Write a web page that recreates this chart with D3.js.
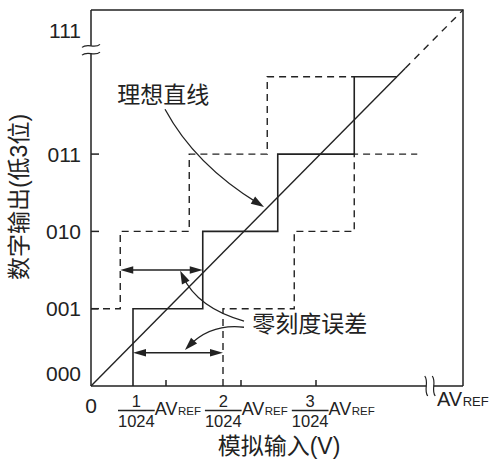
<!DOCTYPE html>
<html><head><meta charset="utf-8">
<script src="https://cdn.jsdelivr.net/npm/d3@7"></script>
<style>body{margin:0;background:#fff}</style>
</head><body><svg id="c" width="496" height="463"></svg>
<script>
// ---- data (in LSB units: x = input / (AVREF/1024), y = output code) ----
const xMax = 4.96, yMax = 4.864;
const yTickLevels = [0, 1, 2, 3, 4.6];
const yTickLabels = ["000", "001", "010", "011", "111"];
const yTickMarks = [1, 2, 3];
const xTickValues = [1, 2, 3];
const xTickNumerators = ["1", "2", "3"];
const xTickDenominator = "1024";
const actualX = [0.56, 0.56, 1.49, 1.49, 2.49, 2.49, 3.51, 3.51, 4.08];
const actualY = [0, 1, 1, 2, 2, 3, 3, 4, 4];
const upperX = [0, 0.39, 0.39, 1.31, 1.31, 2.35, 2.35, 3.51];
const upperY = [1, 1, 2, 2, 3, 3, 4, 4];
const lowerX = [1.76, 1.76, 2.71, 2.71, 3.51, 3.51, 4.35];
const lowerY = [0, 1, 1, 2, 2, 3, 3];
const idealSolidX = [0, 4.19], idealSolidY = [0, 4.11];
const idealDashX = [4.19, 4.96], idealDashY = [4.11, 4.864];
const errUpperX = [0.39, 1.49], errUpperY = 1.5;
const errLowerX = [0.56, 1.76], errLowerY = 0.43;
// callouts: [start, control, tip]
const idealCallout = [[0.987, 3.58], [1.387, 2.86], [2.307, 2.316]];
const errCallout1 = [[2.04, 0.84], [1.42, 1.01], [1.19, 1.49]];
const errCallout2 = [[2.04, 0.76], [1.60, 0.81], [1.253, 0.466]];
const idealLabel = {text: "理想直线", x: 0.35, y: 3.76};
const errLabel = {text: "零刻度误差", x: 2.15, y: 0.80};
const xTitle = "模拟输入(V)", yTitle = "数字输出(低3位)";
const breakX = [4.47, 4.57];   // x-axis break
const breakY = [4.4, 4.3];     // y-axis break

// ---- layout ----
const L = 91, R = 463, T = 10, B = 386;
const x = d3.scaleLinear().domain([0, xMax]).range([L, R]);
const y = d3.scaleLinear().domain([0, yMax]).range([B, T]);
const ink = "#222";
const FONT = "'Liberation Sans', Arial, 'Noto Sans CJK SC', sans-serif";
const svg = d3.select("#c");
svg.append("rect").attr("width", 496).attr("height", 463).attr("fill", "#fff");

const line = d3.line().x(d => x(d[0])).y(d => y(d[1]));
const zip = (a, b) => a.map((v, i) => [v, Array.isArray(b) ? b[i] : b]);

// axes & frame
const g = svg.append("g").attr("stroke", ink).attr("stroke-width", 1.5).attr("fill", "none");
g.append("path").attr("d", `M${x(0)},${y(yMax)}L${x(xMax)},${y(yMax)}L${x(xMax)},${y(0)}`);
g.append("path").attr("d", `M${x(0)},${y(yMax)}L${x(0)},${y(breakY[0])}M${x(0)},${y(breakY[1])}L${x(0)},${y(0)}`);
g.append("path").attr("d", `M${x(0)},${y(0)}L${x(breakX[0])},${y(0)}M${x(breakX[1])},${y(0)}L${x(xMax)},${y(0)}`);
// break marks
breakY.forEach(v => {
  const cx = x(0), cy = y(v);
  g.append("path").attr("stroke-width", 1.2)
    .attr("d", `M${cx-9},${cy+1.5}C${cx-4},${cy-3} ${cx+4},${cy+3} ${cx+9},${cy-1.5}`);
});
breakX.forEach(v => {
  const cx = x(v), cy = y(0);
  g.append("path").attr("stroke-width", 1.2)
    .attr("d", `M${cx-1.5},${cy-10}C${cx+3},${cy-4} ${cx-3},${cy+4} ${cx+1.5},${cy+10}`);
});
// ticks
yTickMarks.forEach(v => g.append("line").attr("x1", x(0)).attr("x2", x(0) + 8).attr("y1", y(v)).attr("y2", y(v)));
xTickValues.forEach(v => g.append("line").attr("x1", x(v)).attr("x2", x(v)).attr("y1", y(0)).attr("y2", y(0) - 6));

// staircases
svg.append("path").attr("d", line(zip(actualX, actualY))).attr("fill", "none").attr("stroke", ink).attr("stroke-width", 1.6);
[zip(upperX, upperY), zip(lowerX, lowerY)].forEach(pts =>
  svg.append("path").attr("d", line(pts)).attr("fill", "none").attr("stroke", ink)
    .attr("stroke-width", 1.4).attr("stroke-dasharray", "7,5"));
// ideal line
svg.append("path").attr("d", line(zip(idealSolidX, idealSolidY))).attr("fill", "none").attr("stroke", ink).attr("stroke-width", 1.4);
svg.append("path").attr("d", line(zip(idealDashX, idealDashY))).attr("fill", "none").attr("stroke", ink)
  .attr("stroke-width", 1.4).attr("stroke-dasharray", "7,6");

// arrowhead helper
function head(tx, ty, fx, fy, len, hw) {
  const dx = tx - fx, dy = ty - fy, n = Math.hypot(dx, dy), ux = dx / n, uy = dy / n;
  const bx = tx - ux * len, by = ty - uy * len;
  svg.append("path").attr("fill", ink).attr("stroke", "none")
    .attr("d", `M${tx},${ty}L${bx - uy * hw},${by + ux * hw}L${bx + uy * hw},${by - ux * hw}Z`);
}
// double arrows
[[errUpperX, errUpperY], [errLowerX, errLowerY]].forEach(([xs, yv]) => {
  const x1 = x(xs[0]), x2 = x(xs[1]), yy = y(yv);
  svg.append("line").attr("x1", x1 + 6).attr("x2", x2 - 6).attr("y1", yy).attr("y2", yy)
    .attr("stroke", ink).attr("stroke-width", 1.4);
  head(x1, yy, x2, yy, 13, 3.8);
  head(x2, yy, x1, yy, 13, 3.8);
});
// callouts
[idealCallout, errCallout1, errCallout2].forEach(c => {
  const [p0, p1, p2] = c.map(p => [x(p[0]), y(p[1])]);
  const n = Math.hypot(p2[0] - p1[0], p2[1] - p1[1]);
  const e = [p2[0] - (p2[0] - p1[0]) / n * 6, p2[1] - (p2[1] - p1[1]) / n * 6];
  svg.append("path").attr("d", `M${p0[0]},${p0[1]}Q${p1[0]},${p1[1]} ${e[0]},${e[1]}`)
    .attr("fill", "none").attr("stroke", ink).attr("stroke-width", 1.3);
  head(p2[0], p2[1], p1[0], p1[1], 13, 4.2);
});

// text
const txt = svg.append("g").attr("fill", ink).attr("font-family", FONT);
txt.append("text").attr("x", x(idealLabel.x)).attr("y", y(idealLabel.y)).attr("dominant-baseline", "central")
  .attr("font-size", 23).text(idealLabel.text);
txt.append("text").attr("x", x(errLabel.x)).attr("y", y(errLabel.y)).attr("dominant-baseline", "central")
  .attr("font-size", 23).text(errLabel.text);
// y tick labels
yTickLevels.forEach((v, i) => {
  txt.append("text").attr("x", x(0) - 10).attr("y", y(v) - (v === 0 ? 13 : 0))
    .attr("dominant-baseline", "central").attr("text-anchor", "end")
    .attr("font-size", 21).text(yTickLabels[i]);
});
// x tick labels
txt.append("text").attr("x", x(0)).attr("y", y(0) + 19).attr("dominant-baseline", "central")
  .attr("text-anchor", "middle").attr("font-size", 21).text("0");
let cursor = 118;
xTickValues.forEach((v, i) => {
  const grp = txt.append("g");
  const den = grp.append("text").attr("x", cursor).attr("y", 427).attr("font-size", 16.5).text(xTickDenominator);
  const w = den.node().getComputedTextLength();
  grp.append("text").attr("x", cursor + w / 2).attr("y", 407).attr("text-anchor", "middle")
    .attr("font-size", 16.5).text(xTickNumerators[i]);
  grp.append("line").attr("x1", cursor).attr("x2", cursor + w).attr("y1", 410.5).attr("y2", 410.5)
    .attr("stroke", ink).attr("stroke-width", 1.3);
  const av = grp.append("text").attr("x", cursor + w).attr("y", 415).attr("font-size", 18).text("AV");
  const aw = av.node().getComputedTextLength();
  const rf = grp.append("text").attr("x", cursor + w + aw + 0.5).attr("y", 415).attr("font-size", 11.5).text("REF");
  cursor = cursor + w + aw + 0.5 + rf.node().getComputedTextLength() + 4;
});
const avR = txt.append("text").attr("x", 437).attr("y", 406).attr("font-size", 20).text("AV");
txt.append("text").attr("x", 437 + avR.node().getComputedTextLength() + 0.5).attr("y", 406)
  .attr("font-size", 13).text("REF");
// axis titles
txt.append("text").attr("x", 279).attr("y", 446).attr("text-anchor", "middle")
  .attr("dominant-baseline", "central").attr("font-size", 23).text(xTitle);
txt.append("text").attr("transform", "translate(19,197) rotate(-90)").attr("text-anchor", "middle")
  .attr("dominant-baseline", "central").attr("font-size", 23).text(yTitle);
</script></body></html>
